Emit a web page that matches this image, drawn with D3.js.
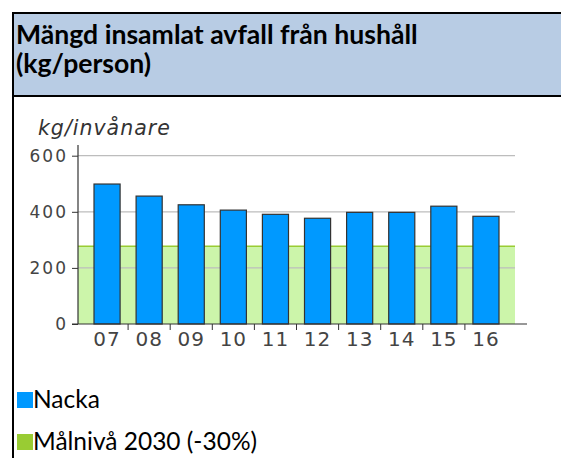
<!DOCTYPE html>
<html>
<head>
<meta charset="utf-8">
<script src="https://cdn.jsdelivr.net/npm/d3@7"></script>
<style>
  body { margin: 0; background: #fff; }
  svg { display: block; }
</style>
</head>
<body>
<div id="chart"></div>
<script>
const years = ['07', '08', '09', '10', '11', '12', '13', '14', '15', '16'];
const nacka = [499, 456, 425, 406, 391, 377, 398, 398, 420, 384];
const target = 277;
const yTicks = [0, 200, 400, 600];
const legendItems = ['Nacka', 'Målnivå 2030 (-30%)'];

const width = 561,
height = 458,
plot = { left: 78, right: 515, top: 145, bottom: 324 };

const svg = d3.select('#chart').
append('svg').
attr('width', width).
attr('height', height);

// header box
svg.append('rect').
attr('x', 13).
attr('y', 13).
attr('width', 580).
attr('height', 83).
attr('fill', '#b8cce4').
attr('stroke', '#000').
attr('stroke-width', 2);

svg.append('line').
attr('x1', 13).attr('x2', 13).
attr('y1', 96).attr('y2', height).
attr('stroke', '#000').
attr('stroke-width', 2);

const title = svg.append('text').
style('font-family', 'Lato, sans-serif').
style('font-weight', 'bold').
style('font-size', '26.6px').
attr('fill', '#000');
title.append('tspan').attr('x', 16).attr('y', 44).text('Mängd insamlat avfall från hushåll');
title.append('tspan').attr('x', 16).attr('y', 73).text('(kg/person)');

// scales
const x = d3.scaleBand().
domain(years).
range([86, 507]).
paddingInner(0.38).
paddingOuter(0.19);

const y = d3.scaleLinear().
domain([0, 600]).
range([plot.bottom, 155.7]);

// target area
svg.append('rect').
attr('x', plot.left).
attr('y', y(target)).
attr('width', plot.right - plot.left).
attr('height', y(0) - y(target)).
attr('fill', '#ccf5aa');

// grid
svg.append('g').
selectAll('line').
data(yTicks.filter(d => d > 0)).
enter().
append('line').
attr('x1', plot.left).
attr('x2', plot.right).
attr('y1', d => y(d)).
attr('y2', d => y(d)).
attr('stroke', '#bdbdbd').
attr('stroke-width', 1.2);

svg.append('line').
attr('x1', plot.left).
attr('x2', plot.right).
attr('y1', y(target)).
attr('y2', y(target)).
attr('stroke', '#99cc33').
attr('stroke-width', 1.5);

// bars
svg.append('g').
selectAll('rect').
data(nacka).
enter().
append('rect').
attr('x', (d, i) => x(years[i])).
attr('y', d => y(d)).
attr('width', x.bandwidth()).
attr('height', d => y(0) - y(d)).
attr('fill', '#0099ff').
attr('stroke', '#333').
attr('stroke-width', 1.2);

// y axis
const yAxis = svg.append('g').
attr('transform', `translate(${plot.left},0)`).
call(d3.axisLeft(y).tickValues(yTicks).tickSize(6).tickPadding(4));
yAxis.select('.domain').attr('d', `M0,${plot.top}V${plot.bottom}`).attr('stroke', '#333').attr('stroke-width', 1.2);
yAxis.selectAll('.tick line').attr('stroke', '#333');
yAxis.selectAll('text').
style('font-family', 'DejaVu Sans, Verdana, sans-serif').
style('font-size', '17px').
style('letter-spacing', '2px').
attr('fill', '#444');

// x axis
const xAxis = svg.append('g').
attr('transform', `translate(0,${plot.bottom})`).
call(d3.axisBottom(x).tickSize(0).tickPadding(8));
xAxis.select('.domain').attr('d', 'M72,0H527').attr('stroke', '#333').attr('stroke-width', 1.2);
xAxis.selectAll('text').
style('font-family', 'DejaVu Sans, Verdana, sans-serif').
style('font-size', '20px').
style('letter-spacing', '1px').
attr('fill', '#444');

xAxis.selectAll('.sep').
data(years.slice(1)).
enter().
append('line').
attr('class', 'sep').
attr('x1', d => x(d) - x.step() * x.paddingInner() / 2).
attr('x2', d => x(d) - x.step() * x.paddingInner() / 2).
attr('y1', 0).
attr('y2', 6).
attr('stroke', '#333');

// y axis title
svg.append('text').
attr('x', 38).
attr('y', 135).
style('font-family', 'DejaVu Sans, Verdana, sans-serif').
style('font-style', 'italic').
style('font-size', '20.5px').
style('letter-spacing', '1px').
attr('fill', '#333').
text('kg/invånare');

// legend
const legend = svg.append('g');
const legendColors = ['#0099ff', '#99cc33'];
legend.selectAll('rect').
data(legendItems).
enter().
append('rect').
attr('x', 17).
attr('y', (d, i) => 392 + i * 42).
attr('width', 16).
attr('height', 16).
attr('fill', (d, i) => legendColors[i]);
legend.selectAll('text').
data(legendItems).
enter().
append('text').
attr('x', 33).
attr('y', (d, i) => 408 + i * 42).
style('font-family', 'Lato, sans-serif').
style('font-size', '24.5px').
attr('fill', '#000').
text(d => d);
</script>
</body>
</html>
